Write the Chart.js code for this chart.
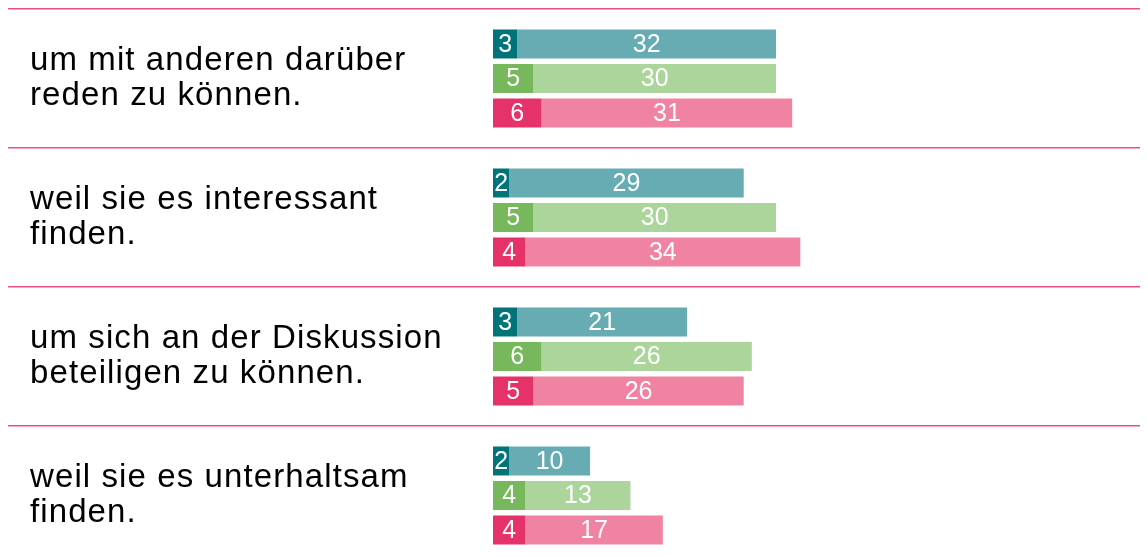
<!DOCTYPE html>
<html>
<head>
<meta charset="utf-8">
<script src="https://cdn.jsdelivr.net/npm/chart.js@4"></script>
<style>
  html, body { margin: 0; padding: 0; background: #fff; overflow: hidden; }
  #wrap { width: 1148px; height: 575px; position: relative; }
</style>
</head>
<body>
<div id="wrap"><canvas id="chart1"></canvas></div>
<script>
const categories = [
  ["um mit anderen darüber", "reden zu können."],
  ["weil sie es interessant", "finden."],
  ["um sich an der Diskussion", "beteiligen zu können."],
  ["weil sie es unterhaltsam", "finden."],
];
const tealDark = [3, 2, 3, 2];
const tealLight = [32, 29, 21, 10];
const greenDark = [5, 5, 6, 4];
const greenLight = [30, 30, 26, 13];
const pinkDark = [6, 4, 5, 4];
const pinkLight = [31, 34, 26, 17];

const FONT = '"Liberation Sans", Arial, sans-serif';

// white numbers in the middle of every segment
const valueLabels = {
  id: "valueLabels",
  afterDatasetsDraw(chart) {
    const ctx = chart.ctx;
    ctx.save();
    ctx.font = "25px " + FONT;
    ctx.fillStyle = "#ffffff";
    ctx.textAlign = "center";
    ctx.textBaseline = "middle";
    chart.data.datasets.forEach((ds, i) => {
      chart.getDatasetMeta(i).data.forEach((bar, j) => {
        const p = bar.getCenterPoint();
        ctx.fillText(ds.data[j], p.x, p.y + 1);
      });
    });
    ctx.restore();
  },
};

// separator lines start at the far left, the text sits a bit further in
// and the category text is a little wider spaced than the numbers
const labelStyle = {
  id: "labelStyle",
  afterLayout(chart) {
    chart.scales.y.left = 30;
  },
  beforeDraw(chart) {
    chart.ctx.letterSpacing = "1.1px";
  },
  beforeDatasetsDraw(chart) {
    chart.ctx.letterSpacing = "0px";
  },
};

function seg(label, data, color, stack) {
  return {
    label: label,
    data: data,
    backgroundColor: color,
    borderWidth: 0,
    stack: stack,
    categoryPercentage: 0.745,
    barPercentage: 0.84,
  };
}

new Chart("chart1", {
  type: "bar",
  data: {
    labels: categories,
    datasets: [
      seg("teal dark", tealDark, "#007479", "t"),
      seg("teal light", tealLight, "#67abb3", "t"),
      seg("green dark", greenDark, "#76b85b", "g"),
      seg("green light", greenLight, "#acd59c", "g"),
      seg("pink dark", pinkDark, "#e53369", "p"),
      seg("pink light", pinkLight, "#f083a2", "p"),
    ],
  },
  options: {
    indexAxis: "y",
    responsive: true,
    maintainAspectRatio: false,
    animation: false,
    layout: {
      padding: { left: 8, right: 8, top: 9, bottom: 10 },
    },
    plugins: {
      legend: { display: false },
      tooltip: { enabled: false },
    },
    scales: {
      x: {
        stacked: true,
        display: false,
        min: 0,
        max: 80,
      },
      y: {
        stacked: true,
        border: { display: false },
        grid: {
          offset: true,
          color: "#e8527f",
          lineWidth: 1.5,
          tickLength: 485,
        },
        ticks: {
          crossAlign: "far",
          color: "#000000",
          font: { family: FONT, size: 33, lineHeight: 1.06 },
        },
        afterFit(scale) {
          scale.width = 485;
          scale.paddingTop = 0;
          scale.paddingBottom = 0;
        },
      },
    },
  },
  plugins: [valueLabels, labelStyle],
});
</script>
</body>
</html>
